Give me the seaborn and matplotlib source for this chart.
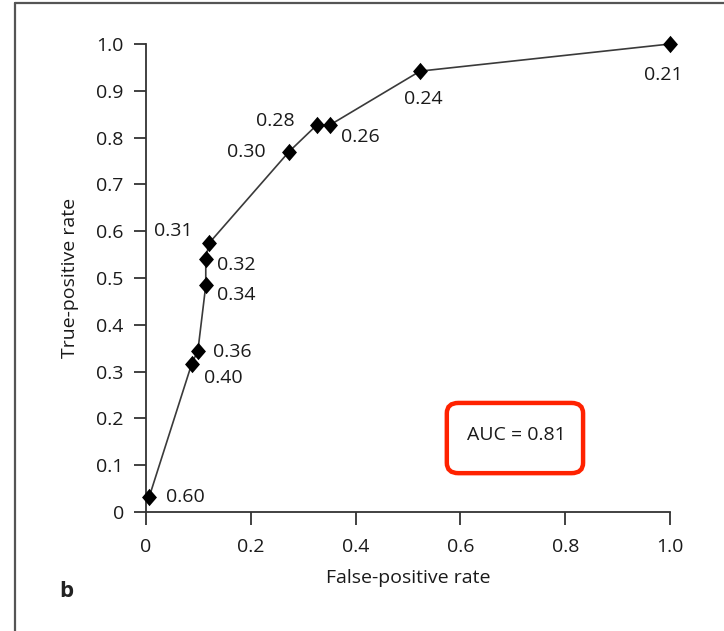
import pandas as pd
import seaborn as sns
import matplotlib.pyplot as plt
from matplotlib.lines import Line2D
from matplotlib.patches import FancyBboxPatch

# ROC points (false-positive rate, true-positive rate) and cut-offs
fpr = [0.006, 0.087, 0.099, 0.114, 0.114, 0.120, 0.273, 0.326, 0.351, 0.523, 1.0]
tpr = [0.032, 0.316, 0.345, 0.484, 0.540, 0.574, 0.770, 0.827, 0.827, 0.942, 1.0]
cutoffs = ['0.60', '0.40', '0.36', '0.34', '0.32', '0.31', '0.30', '0.28', '0.26', '0.24', '0.21']
auc_text = 'AUC = 0.81'

x_ticks = [0, 0.2, 0.4, 0.6, 0.8, 1.0]
x_ticklabels = ['0', '0.2', '0.4', '0.6', '0.8', '1.0']
y_ticks = [0, 0.1, 0.2, 0.3, 0.4, 0.5, 0.6, 0.7, 0.8, 0.9, 1.0]
y_ticklabels = ['0', '0.1', '0.2', '0.3', '0.4', '0.5', '0.6', '0.7', '0.8', '0.9', '1.0']

# where each cut-off label sits relative to its marker (offset points, h-alignment)
label_pos = {
    '0.60': ((12, 0), 'left'),
    '0.40': ((9, -10), 'left'),
    '0.36': ((11, -1), 'left'),
    '0.34': ((8, -7), 'left'),
    '0.32': ((8, -4), 'left'),
    '0.31': ((-12, 9), 'right'),
    '0.30': ((-17, 0), 'right'),
    '0.28': ((-16, 3), 'right'),
    '0.26': ((8, -9), 'left'),
    '0.24': ((2, -20), 'center'),
    '0.21': ((-5, -22), 'center'),
}

df = pd.DataFrame({'fpr': fpr, 'tpr': tpr, 'cutoff': cutoffs})

sns.set_style('white')
plt.rcParams['font.family'] = ['Open Sans', 'DejaVu Sans']
text_color = '#1a1a1a'
fs = 14

fig = plt.figure(figsize=(7.24, 6.31), dpi=100)
ax = fig.add_axes([0.2017, 0.1886, 0.7238, 0.7417])

diamond = [(0, 1), (0.86, 0), (0, -1), (-0.86, 0), (0, 1)]
sns.lineplot(data=df, x='fpr', y='tpr', estimator=None, sort=False, ax=ax,
             color='#3a3a3a', linewidth=1.2, marker=diamond, markersize=12.5,
             markerfacecolor='black', markeredgecolor='black', markeredgewidth=0,
             clip_on=False, zorder=3)

for x, y, lab in zip(df['fpr'], df['tpr'], df['cutoff']):
    off, ha = label_pos[lab]
    ax.annotate(lab, (x, y), xytext=off, textcoords='offset points',
                ha=ha, va='center', fontsize=fs, color=text_color)

# AUC box
box = FancyBboxPatch((0.574, 0.083), 0.260, 0.150,
                     boxstyle='round,pad=0,rounding_size=0.022',
                     facecolor='none', edgecolor='#ff2200', linewidth=3.2,
                     transform=ax.transData, clip_on=False)
ax.add_patch(box)
ax.text(0.706, 0.165, auc_text, ha='center', va='center', fontsize=fs, color=text_color)

ax.set_xlim(0, 1)
ax.set_ylim(0, 1)
ax.set_xticks(x_ticks)
ax.set_xticklabels(x_ticklabels)
ax.set_yticks(y_ticks)
ax.set_yticklabels(y_ticklabels)
sns.despine(ax=ax)
for s in ['left', 'bottom']:
    ax.spines[s].set_color('#333333')
    ax.spines[s].set_linewidth(1.3)
ax.tick_params(axis='both', direction='out', length=9, width=1.3, color='#333333',
               labelsize=fs, labelcolor=text_color, bottom=True, left=True)
ax.tick_params(axis='y', pad=7)
ax.tick_params(axis='x', pad=10)

ax.set_xlabel('False-positive rate', fontsize=fs, color=text_color)
ax.set_ylabel('True-positive rate', fontsize=fs, color=text_color)
ax.xaxis.set_label_coords(0.5, -0.122)
ax.yaxis.set_label_coords(-0.128, 0.5)

fig.text(0.091, 0.063, 'b', fontsize=16, fontweight='bold', ha='center', va='center',
         color='#222222')

# panel frame
fig.add_artist(Line2D([0.0207, 0.0207], [0, 0.9952], transform=fig.transFigure,
                      color='#555555', linewidth=1.6))
fig.add_artist(Line2D([0.0207, 1.0], [0.9952, 0.9952], transform=fig.transFigure,
                      color='#555555', linewidth=1.6))

plt.savefig('out.png', dpi=100)
